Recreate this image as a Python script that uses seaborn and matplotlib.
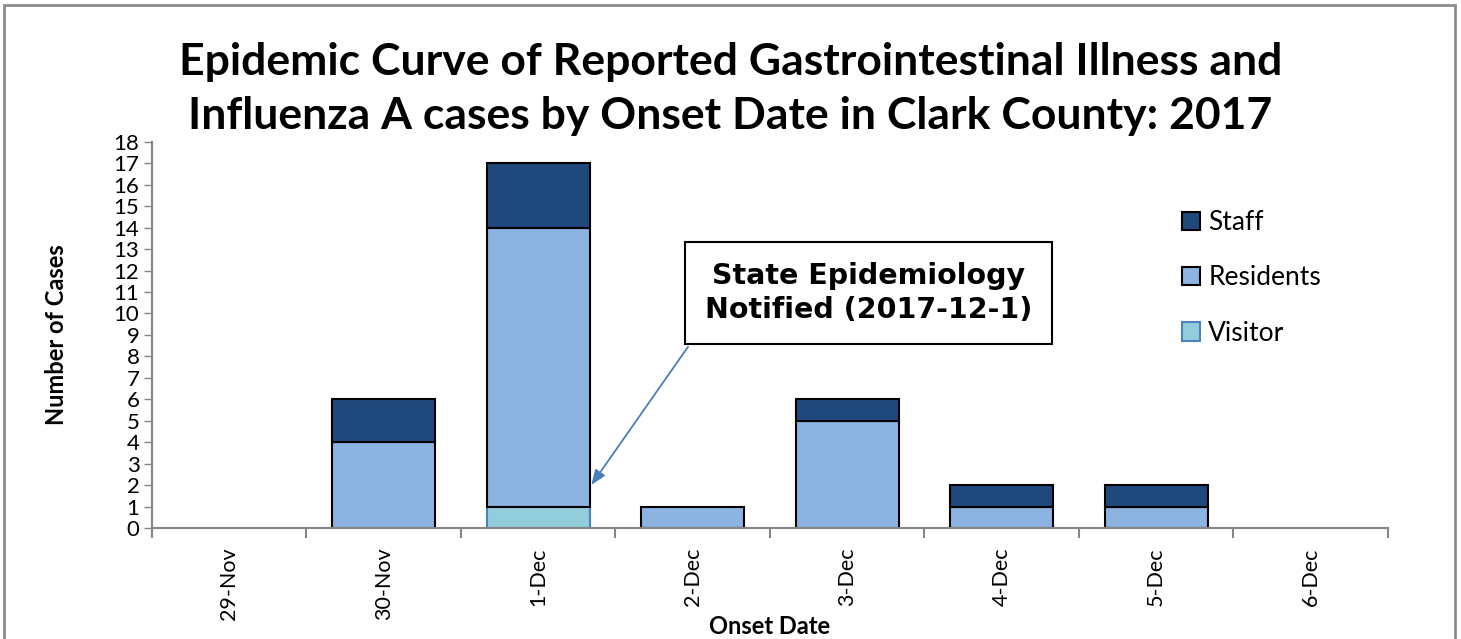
import pandas as pd
import matplotlib.pyplot as plt
import matplotlib.patches as mpatches
import seaborn as sns

# Data
dates = ['29-Nov', '30-Nov', '1-Dec', '2-Dec', '3-Dec', '4-Dec', '5-Dec', '6-Dec']
visitor = [0, 0, 1, 0, 0, 0, 0, 0]
residents = [0, 4, 13, 1, 5, 1, 1, 0]
staff = [0, 2, 3, 0, 1, 1, 1, 0]

df = pd.DataFrame({'date': dates, 'Visitor': visitor, 'Residents': residents, 'Staff': staff})
df['res_bottom'] = df['Visitor']
df['staff_bottom'] = df['Visitor'] + df['Residents']

c_staff = '#1F497D'
c_res = '#8DB3E2'
c_vis = '#92CDDC'

sns.set_style('white')
plt.rcParams['font.family'] = ['Lato', 'DejaVu Sans']
plt.rcParams['text.color'] = 'black'
plt.rcParams['axes.labelcolor'] = 'black'
plt.rcParams['xtick.labelcolor'] = 'black'
plt.rcParams['ytick.labelcolor'] = 'black'

fig = plt.figure(figsize=(14.61, 6.39), dpi=100)
ax = fig.add_axes([0.104, 0.1737, 0.846, 0.6043])

w = 0.667
sns.barplot(data=df, x='date', y='Visitor', order=dates, color=c_vis, saturation=1,
            width=w, edgecolor='#4F81BD', linewidth=1.5, ax=ax)
sns.barplot(data=df, x='date', y='Residents', order=dates, color=c_res, saturation=1,
            width=w, edgecolor='black', linewidth=1.5, bottom=df['res_bottom'], ax=ax)
sns.barplot(data=df, x='date', y='Staff', order=dates, color=c_staff, saturation=1,
            width=w, edgecolor='black', linewidth=1.5, bottom=df['staff_bottom'], ax=ax)

# hide outlines of empty segments
for p in ax.patches:
    if p.get_height() == 0:
        p.set_visible(False)

ax.set_xlim(-0.5, len(dates) - 0.5)
ax.set_ylim(0, 18)
ax.set_yticks(range(0, 19))
ax.tick_params(axis='y', labelsize=16, length=6, width=1, color='#868686', direction='out', left=True, pad=3)
ax.set_xticks(range(len(dates)))
ax.set_xticklabels(dates, rotation=90, fontsize=15.5)
ax.set_xticks([i - 0.5 for i in range(len(dates) + 1)], minor=True)
ax.tick_params(axis='x', which='major', length=0, pad=14)
ax.tick_params(axis='x', which='minor', length=7, width=1.5, color='#868686', direction='out', bottom=True)

for s in ['top', 'right']:
    ax.spines[s].set_visible(False)
for s in ['left', 'bottom']:
    ax.spines[s].set_color('#868686')
    ax.spines[s].set_linewidth(1.5)
    ax.spines[s].set_zorder(5)

ax.set_xlabel('Onset Date', fontsize=17, fontweight='bold', labelpad=-4)
ax.set_ylabel('Number of Cases', fontsize=17, fontweight='bold', labelpad=33)

fig.suptitle('Epidemic Curve of Reported Gastrointestinal Illness and\nInfluenza A cases by Onset Date in Clark County: 2017',
             fontsize=32, fontweight='bold', y=0.935, linespacing=1.45)

# Legend
handles = [mpatches.Patch(facecolor=c_staff, edgecolor='black', linewidth=1.5, label='Staff'),
           mpatches.Patch(facecolor=c_res, edgecolor='black', linewidth=1.5, label='Residents'),
           mpatches.Patch(facecolor=c_vis, edgecolor='#4F81BD', linewidth=1.5, label='Visitor')]
ax.legend(handles=handles, loc='upper left', bbox_to_anchor=(0.814, 0.885), frameon=False,
          fontsize=19, handlelength=0.7, handleheight=0.7, handletextpad=0.3, labelspacing=1.15)

# Annotation
ax.annotate('', xy=(2 + w / 2, 1.9), xytext=(2.98, 8.55),
            arrowprops=dict(arrowstyle='-|>,head_length=0.9,head_width=0.35', color='#4A7EBB', lw=1.3))
ax.text(4.14, 10.95, 'State Epidemiology\nNotified (2017-12-1)', ha='center', va='center',
        fontsize=20.5, fontweight='bold', family='DejaVu Sans', linespacing=1.25,
        bbox=dict(boxstyle='square,pad=0.7', facecolor='white', edgecolor='black', linewidth=1.5))

# Outer frame
fig.patches.append(mpatches.Rectangle((0.003, -0.05), 0.993, 1.042, transform=fig.transFigure,
                                      fill=False, edgecolor='#8C8C8C', linewidth=2))

fig.savefig('out.png', dpi=100)
